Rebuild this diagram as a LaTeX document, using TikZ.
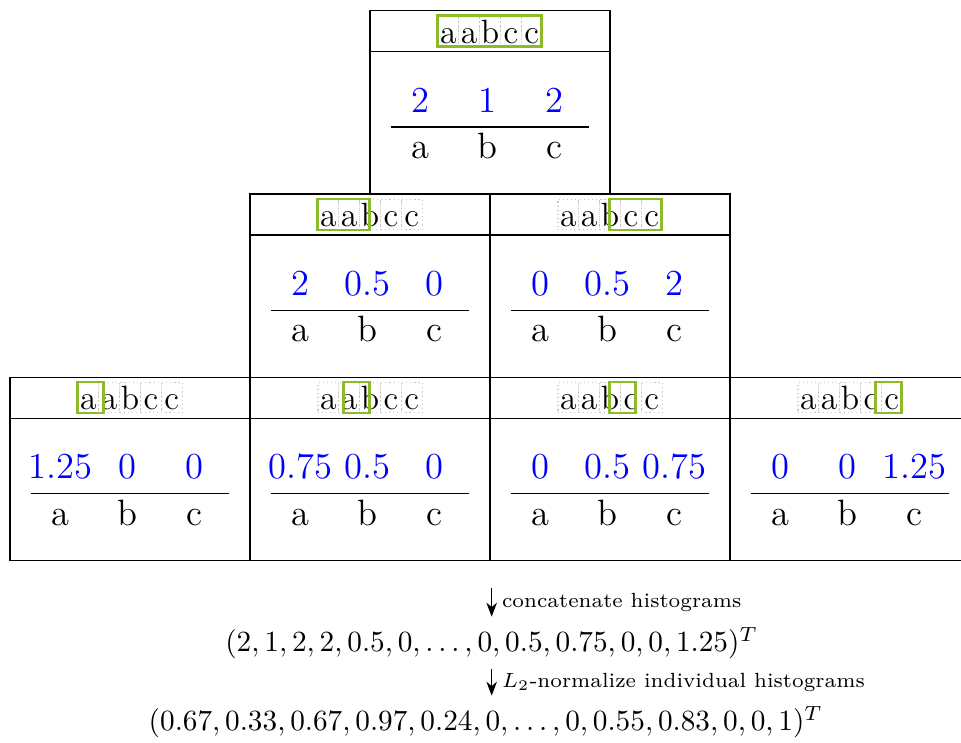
\documentclass[tikz,border=0pt]{standalone}
\usepackage{amsmath}
\usetikzlibrary{arrows.meta, calc}
\definecolor{window}{RGB}{140,186,40}
\definecolor{hist}{RGB}{0,0,255}
\begin{document}
\begin{tikzpicture}[
  >=Stealth,
  histfont/.style={font=\fontsize{12.5}{15}\selectfont},
  cellbox/.style={font=\fontsize{11.5}{14}\selectfont, draw=gray!45, densely dotted,
                  minimum width=0.25cm, minimum height=0.36cm, inner xsep=0pt,
                  inner ysep=0.025cm, text height=0.3cm, text depth=0.01cm},
  histbox/.style={draw, minimum width=2.88cm, minimum height=2.2cm,
                  anchor=north, inner sep=0pt},
  win/.style={draw=window, thick},
  count/.style={histfont, text=hist, anchor=base},
  bin/.style={histfont, anchor=base},
]
\useasboundingbox (0,0) rectangle (11.532,-8.904);
\clip (0,0) rectangle (11.532,-8.904);
% one box per window: name/x/top/window start/window end/counts
\foreach \hn/\cx/\ty/\wa/\wb/\ca/\cb/\cc in {
    top/5.88/-0.12/0/5/2/1/2,
    ml/4.44/-2.32/0/2.5/2/0.5/0,
    mr/7.32/-2.32/2.5/5/0/0.5/2,
    b1/1.56/-4.52/0/1.25/1.25/0/0,
    b2/4.44/-4.52/1.25/2.5/0.75/0.5/0,
    b3/7.32/-4.52/2.5/3.75/0/0.5/0.75,
    b4/10.2/-4.52/3.75/5/0/0/1.25}{
  \node[histbox] (\hn) at (\cx,\ty) {};
  \draw ([yshift=-0.5cm]\hn.north west) -- ([yshift=-0.5cm]\hn.north east);
  \foreach \l [count=\i] in {a,a,b,c,c}
    \node[cellbox] (\hn-\i) at ($(\hn.north)+({(\i-3)*0.25},-0.252)$) {\l};
  \draw[win] ([xshift=\wa*0.25cm]\hn-1.south west)
    rectangle ([xshift=\wb*0.25cm]\hn-1.north west);
  \node[count] at ($(\hn.north)+(-0.83,-1.226)$) {\ca};
  \node[count] at ($(\hn.north)+(-0.03,-1.226)$) {\cb};
  \node[count] at ($(\hn.north)+(0.77,-1.226)$)  {\cc};
  \draw ($(\hn.north)+(-1.19,-1.404)$) -- ($(\hn.north)+(1.19,-1.404)$);
  \node[bin] at ($(\hn.north)+(-0.83,-1.78)$) {a};
  \node[bin] at ($(\hn.north)+(-0.03,-1.78)$) {b};
  \node[bin] at ($(\hn.north)+(0.77,-1.78)$)  {c};
}
% feature vector
\coordinate (split) at (5.9,-7.056);
\node (v1) at (5.9,-7.716) {$(2,1,2,2,0.5,0,\ldots,0,0.5,0.75,0,0,1.25)^T$};
\node (v2) at (5.83,-8.664) {$(0.67,0.33,0.67,0.97,0.24,0,\ldots,0,0.55,0.83,0,0,1)^T$};
\draw[->] (split) -- node[right, font=\scriptsize] {concatenate histograms} (v1);
\draw[->] (v1) -- node[right, font=\scriptsize] {$L_2$-normalize individual histograms} (v1 |- v2.north);
\end{tikzpicture}
\end{document}
